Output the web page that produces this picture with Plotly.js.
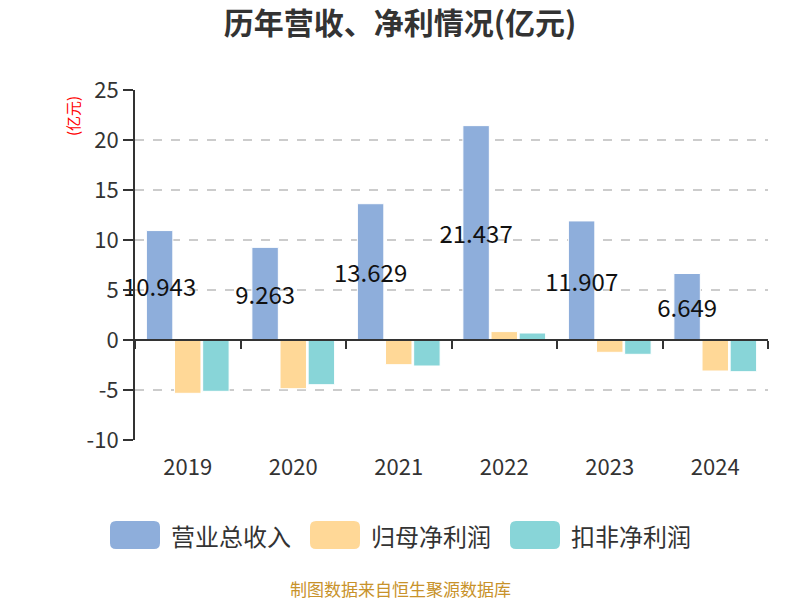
<!DOCTYPE html>
<html>
<head>
<meta charset="utf-8">
<script src="https://cdn.plot.ly/plotly-3.0.1.min.js"></script>
<style>
  html, body { margin: 0; padding: 0; background: #fff; }
  #chart { width: 800px; height: 600px; }
</style>
</head>
<body>
<div id="chart"></div>
<script>
// 数据（亿元）
var years = ['2019', '2020', '2021', '2022', '2023', '2024'];
var revenue = [10.943, 9.263, 13.629, 21.437, 11.907, 6.649];
var netProfit = [-5.33, -4.87, -2.47, 0.84, -1.23, -3.10];
var deductedProfit = [-5.13, -4.47, -2.60, 0.70, -1.43, -3.17];
var seriesNames = ['营业总收入', '归母净利润', '扣非净利润'];
var seriesColors = ['#8eaedb', '#ffd897', '#88d5d8'];
var yTickVals = [-10, -5, 0, 5, 10, 15, 20, 25];
var yTickText = ['-10', '-5', '0', '5', '10', '15', '20', '25'];

var font = '"Noto Sans CJK SC", "Noto Sans", sans-serif';

// plot area in pixels (for placing the hand-made legend)
var W = 800, H = 600;
var mL = 135, mR = 32, mT = 90, mB = 160;
var plotW = W - mL - mR, plotH = H - mT - mB;
function px2x(px) { return (px - mL) / plotW; }
function py2y(py) { return (H - mB - py) / plotH; }

function roundRect(x0, y0, x1, y1, r) {
  var rx = r / plotW, ry = r / plotH;
  var a = px2x(x0), b = px2x(x1), top = py2y(y0), bot = py2y(y1);
  return 'M' + (a + rx) + ',' + top +
    ' L' + (b - rx) + ',' + top +
    ' Q' + b + ',' + top + ' ' + b + ',' + (top - ry) +
    ' L' + b + ',' + (bot + ry) +
    ' Q' + b + ',' + bot + ' ' + (b - rx) + ',' + bot +
    ' L' + (a + rx) + ',' + bot +
    ' Q' + a + ',' + bot + ' ' + a + ',' + (bot + ry) +
    ' L' + a + ',' + (top - ry) +
    ' Q' + a + ',' + top + ' ' + (a + rx) + ',' + top + ' Z';
}

var revTrace = {
  x: years,
  y: revenue,
  name: seriesNames[0],
  type: 'bar',
  marker: { color: seriesColors[0], line: { color: '#ffffff', width: 1 } },
  text: revenue.map(function (v) { return v.toFixed(3); }),
  textposition: 'inside',
  insidetextanchor: 'middle',
  textangle: 0,
  textfont: { size: 24, color: '#111', family: font },
  constraintext: 'none',
  cliponaxis: false,
  hoverinfo: 'x+y'
};

var netTrace = {
  x: years,
  y: netProfit,
  name: seriesNames[1],
  type: 'bar',
  marker: { color: seriesColors[1], line: { color: '#ffffff', width: 1 } },
  hoverinfo: 'x+y'
};

var dedTrace = {
  x: years,
  y: deductedProfit,
  name: seriesNames[2],
  type: 'bar',
  marker: { color: seriesColors[2], line: { color: '#ffffff', width: 1 } },
  hoverinfo: 'x+y'
};

// invisible trace that carries the axis drawn at y = 0
var zeroAxisTrace = {
  x: years,
  y: years.map(function () { return 0; }),
  xaxis: 'x2',
  type: 'scatter',
  mode: 'markers',
  marker: { opacity: 0 },
  showlegend: false,
  hoverinfo: 'skip'
};

var yMin = -10, yMax = 25;

// legend: rounded swatch + label, one per series
var legendShapes = [], legendNotes = [];
seriesNames.forEach(function (name, i) {
  var x0 = 110 + 200 * i;
  legendShapes.push({
    type: 'path',
    xref: 'paper', yref: 'paper',
    path: roundRect(x0, 521, x0 + 50, 549, 6),
    fillcolor: seriesColors[i],
    line: { width: 0 }
  });
  legendNotes.push({
    text: name,
    xref: 'paper', yref: 'paper',
    x: px2x(x0 + 59), y: py2y(535),
    xanchor: 'left', yanchor: 'middle',
    showarrow: false,
    font: { size: 24, color: '#333' }
  });
});

var layout = {
  width: W,
  height: H,
  margin: { l: mL, r: mR, t: mT, b: mB },
  paper_bgcolor: '#fff',
  plot_bgcolor: '#fff',
  showlegend: false,
  font: { family: font, color: '#333' },
  title: {
    text: '<b>历年营收、净利情况(亿元)</b>',
    font: { size: 30, color: '#333', family: font },
    x: 0.5,
    xref: 'container',
    y: 1 - 23 / H,
    yref: 'container',
    yanchor: 'middle'
  },
  barmode: 'group',
  bargap: 0.2,
  bargroupgap: 0.06,
  xaxis: {
    type: 'category',
    range: [-0.5, 5.5],
    showline: false,
    ticks: '',
    showgrid: false,
    zeroline: false,
    tickfont: { size: 22, color: '#333' },
    ticklabelstandoff: 12
  },
  xaxis2: {
    type: 'category',
    overlaying: 'x',
    anchor: 'free',
    position: (0 - yMin) / (yMax - yMin),
    side: 'bottom',
    range: [-0.5, 5.5],
    showline: true,
    linecolor: '#333',
    linewidth: 2,
    ticks: 'outside',
    tickson: 'boundaries',
    ticklen: 8,
    tickwidth: 2,
    tickcolor: '#333',
    showticklabels: false,
    showgrid: false,
    zeroline: false
  },
  yaxis: {
    range: [yMin, yMax],
    tickmode: 'array',
    tickvals: yTickVals,
    ticktext: yTickText,
    showline: true,
    linecolor: '#333',
    linewidth: 2,
    ticks: 'outside',
    ticklen: 10,
    tickwidth: 2,
    tickcolor: '#333',
    showgrid: true,
    gridcolor: '#cccccc',
    griddash: 'dash',
    gridwidth: 1.5,
    zeroline: false,
    tickfont: { size: 22, color: '#333' }
  },
  shapes: legendShapes,
  annotations: [
    {
      text: '(亿元)',
      xref: 'paper', yref: 'paper',
      x: px2x(72), y: py2y(116),
      xanchor: 'center', yanchor: 'middle',
      textangle: -90,
      showarrow: false,
      font: { size: 15, color: '#ff0000' }
    },
    {
      text: '制图数据来自恒生聚源数据库',
      xref: 'paper', yref: 'paper',
      x: px2x(400), y: py2y(588),
      xanchor: 'center', yanchor: 'middle',
      showarrow: false,
      font: { size: 17, color: '#c8922a' }
    }
  ].concat(legendNotes)
};

Plotly.newPlot('chart', [revTrace, netTrace, dedTrace, zeroAxisTrace], layout, { displayModeBar: false, staticPlot: true });
</script>
</body>
</html>
